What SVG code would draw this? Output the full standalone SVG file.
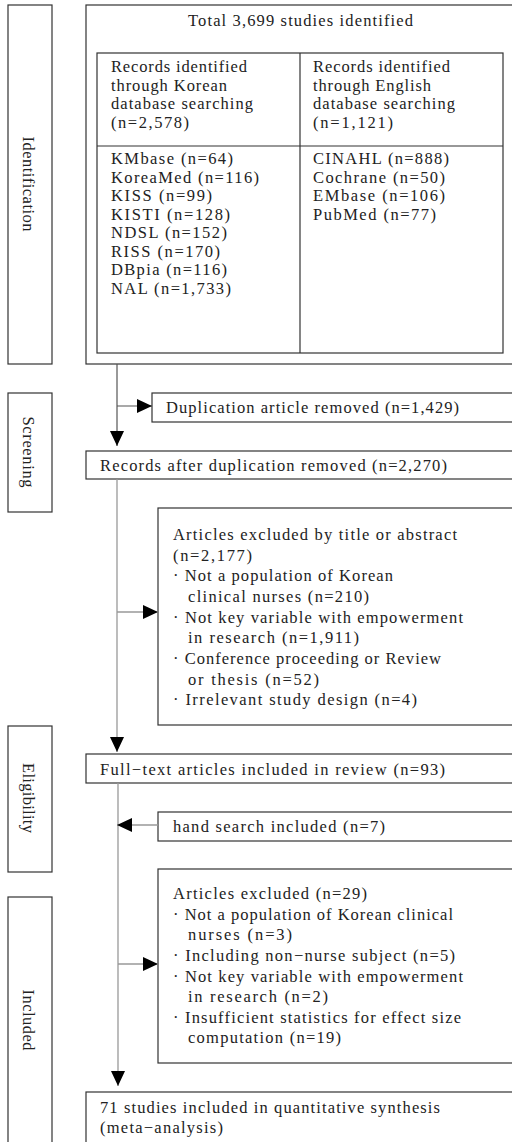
<svg xmlns="http://www.w3.org/2000/svg" width="512" height="1142" viewBox="0 0 512 1142">
<style>
.box{fill:#fff;stroke:#333;stroke-width:1.2}
.t{font-family:"Liberation Serif","DejaVu Serif",serif;font-size:16.5px;fill:#222}
.c{fill:none;stroke:#999;stroke-width:1.3}
.cd{fill:none;stroke:#555;stroke-width:1.2}
</style>
<defs>
<marker id="ah" viewBox="0 0 15 14" refX="15" refY="7" markerWidth="15" markerHeight="14" markerUnits="userSpaceOnUse" orient="auto">
<path d="M0,0 L15,7 L0,14 z" fill="#000"/>
</marker>
</defs>
<rect width="512" height="1142" fill="#fff"/>

<g id="stage-identification">
<rect class="box" x="8" y="5" width="44" height="359"/>
<text class="t" transform="translate(23,184) rotate(90)" text-anchor="middle" textLength="95" lengthAdjust="spacing">Identification</text>
</g>
<g id="stage-screening">
<rect class="box" x="8" y="393" width="44" height="119"/>
<text class="t" transform="translate(23,452) rotate(90)" text-anchor="middle" textLength="71" lengthAdjust="spacing">Screening</text>
</g>
<g id="stage-eligibility">
<rect class="box" x="8" y="726" width="44" height="146"/>
<text class="t" transform="translate(23,798) rotate(90)" text-anchor="middle" textLength="70" lengthAdjust="spacing">Eligibility</text>
</g>
<g id="stage-included">
<rect class="box" x="8" y="897" width="44" height="260"/>
<text class="t" transform="translate(23,1020) rotate(90)" text-anchor="middle" textLength="61" lengthAdjust="spacing">Included</text>
</g>

<g id="total">
<rect class="box" x="86" y="5" width="440" height="359"/>
<text class="t" x="188" y="26" textLength="225" lengthAdjust="spacing">Total 3,699 studies identified</text>
<rect class="box" x="97" y="53" width="406" height="300"/>
<line class="box" x1="300" y1="53" x2="300" y2="353"/>
<line class="box" x1="97" y1="146" x2="503" y2="146"/>
</g>
<g id="korean">
<text class="t" x="111" y="72" textLength="136" lengthAdjust="spacing">Records identified</text>
<text class="t" x="111" y="90.5" textLength="116" lengthAdjust="spacing">through Korean</text>
<text class="t" x="111" y="109" textLength="142" lengthAdjust="spacing">database searching</text>
<text class="t" x="111" y="127.5" textLength="78" lengthAdjust="spacing">(n=2,578)</text>
<text class="t" x="111" y="164" textLength="122" lengthAdjust="spacing">KMbase (n=64)</text>
<text class="t" x="111" y="182.5" textLength="148" lengthAdjust="spacing">KoreaMed (n=116)</text>
<text class="t" x="111" y="201" textLength="101" lengthAdjust="spacing">KISS (n=99)</text>
<text class="t" x="111" y="219.5" textLength="119" lengthAdjust="spacing">KISTI (n=128)</text>
<text class="t" x="111" y="238" textLength="116" lengthAdjust="spacing">NDSL (n=152)</text>
<text class="t" x="111" y="256.5" textLength="109" lengthAdjust="spacing">RISS (n=170)</text>
<text class="t" x="111" y="275" textLength="116" lengthAdjust="spacing">DBpia (n=116)</text>
<text class="t" x="111" y="293.5" textLength="120" lengthAdjust="spacing">NAL (n=1,733)</text>
</g>
<g id="english">
<text class="t" x="313" y="72" textLength="137" lengthAdjust="spacing">Records identified</text>
<text class="t" x="313" y="90.5" textLength="118" lengthAdjust="spacing">through English</text>
<text class="t" x="313" y="109" textLength="142" lengthAdjust="spacing">database searching</text>
<text class="t" x="313" y="127.5" textLength="80" lengthAdjust="spacing">(n=1,121)</text>
<text class="t" x="313" y="164" textLength="136" lengthAdjust="spacing">CINAHL (n=888)</text>
<text class="t" x="313" y="182.5" textLength="132" lengthAdjust="spacing">Cochrane (n=50)</text>
<text class="t" x="313" y="201" textLength="132" lengthAdjust="spacing">EMbase (n=106)</text>
<text class="t" x="313" y="219.5" textLength="123" lengthAdjust="spacing">PubMed (n=77)</text>
</g>

<g id="duplication">
<rect class="box" x="152" y="393" width="370" height="29"/>
<text class="t" x="166" y="413" textLength="293" lengthAdjust="spacing">Duplication article removed (n=1,429)</text>
</g>
<g id="records-after">
<rect class="box" x="86" y="451" width="440" height="28"/>
<text class="t" x="100" y="471" textLength="347" lengthAdjust="spacing">Records after duplication removed (n=2,270)</text>
</g>
<g id="excluded-title">
<rect class="box" x="158" y="508" width="370" height="217"/>
<text class="t" x="173" y="540" textLength="284" lengthAdjust="spacing">Articles excluded by title or abstract</text>
<text class="t" x="173" y="560.5" textLength="79" lengthAdjust="spacing">(n=2,177)</text>
<text class="t" x="173" y="581" textLength="220" lengthAdjust="spacing">· Not a population of Korean</text>
<text class="t" x="188" y="602" textLength="181" lengthAdjust="spacing">clinical nurses (n=210)</text>
<text class="t" x="173" y="622.5" textLength="290" lengthAdjust="spacing">· Not key variable with empowerment</text>
<text class="t" x="188" y="643" textLength="171" lengthAdjust="spacing">in research (n=1,911)</text>
<text class="t" x="173" y="664" textLength="268" lengthAdjust="spacing">· Conference proceeding or Review</text>
<text class="t" x="188" y="684.5" textLength="131" lengthAdjust="spacing">or thesis (n=52)</text>
<text class="t" x="173" y="705" textLength="244" lengthAdjust="spacing">· Irrelevant study design (n=4)</text>
</g>
<g id="full-text">
<rect class="box" x="86" y="754" width="440" height="29"/>
<text class="t" x="100" y="775" textLength="345" lengthAdjust="spacing">Full−text articles included in review (n=93)</text>
</g>
<g id="hand-search">
<rect class="box" x="158" y="812" width="370" height="29"/>
<text class="t" x="173" y="832" textLength="212" lengthAdjust="spacing">hand search included (n=7)</text>
</g>
<g id="excluded-full">
<rect class="box" x="158" y="869" width="370" height="194"/>
<text class="t" x="173" y="899" textLength="194" lengthAdjust="spacing">Articles excluded (n=29)</text>
<text class="t" x="173" y="920" textLength="280" lengthAdjust="spacing">· Not a population of Korean clinical</text>
<text class="t" x="188" y="940" textLength="104" lengthAdjust="spacing">nurses (n=3)</text>
<text class="t" x="173" y="961" textLength="282" lengthAdjust="spacing">· Including non−nurse subject (n=5)</text>
<text class="t" x="173" y="981.5" textLength="290" lengthAdjust="spacing">· Not key variable with empowerment</text>
<text class="t" x="188" y="1002" textLength="140" lengthAdjust="spacing">in research (n=2)</text>
<text class="t" x="173" y="1023" textLength="288" lengthAdjust="spacing">· Insufficient statistics for effect size</text>
<text class="t" x="188" y="1043" textLength="153" lengthAdjust="spacing">computation (n=19)</text>
</g>
<g id="final">
<rect class="box" x="86" y="1092" width="440" height="70"/>
<text class="t" x="100" y="1113" textLength="340" lengthAdjust="spacing">71 studies included in quantitative synthesis</text>
<text class="t" x="100" y="1133" textLength="123" lengthAdjust="spacing">(meta−analysis)</text>
</g>

<g id="connectors">
<path class="cd" d="M117,364 V446" marker-end="url(#ah)"/>
<path class="cd" d="M117,406 H152" marker-end="url(#ah)"/>
<path class="c" d="M117,479 V752" marker-end="url(#ah)"/>
<path class="c" d="M117,612 H158" marker-end="url(#ah)"/>
<path class="c" d="M118,783 V1086" marker-end="url(#ah)"/>
<path class="c" d="M158,825 H117" marker-end="url(#ah)"/>
<path class="c" d="M118,964 H158" marker-end="url(#ah)"/>
</g>
</svg>
